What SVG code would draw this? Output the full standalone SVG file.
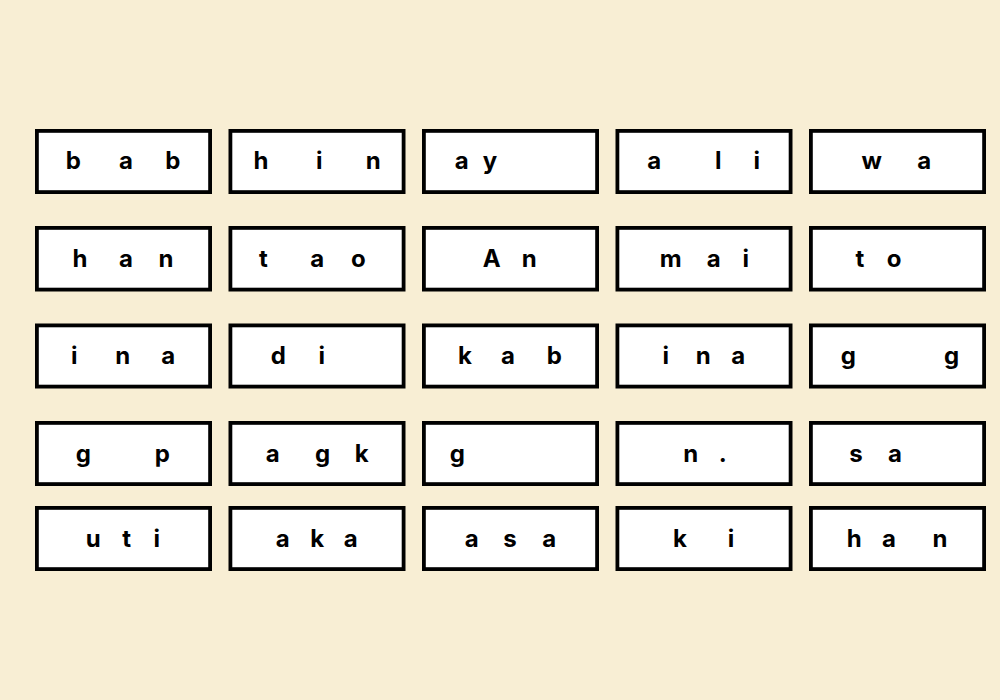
<svg xmlns="http://www.w3.org/2000/svg" width="1000" height="700" viewBox="0 0 1000 700">
<style>
.bg{fill:#f8eed4}
.box rect{fill:#ffffff;stroke:#000000;stroke-width:3.8}
.box text{font-family:Inter,"DejaVu Sans",sans-serif;font-weight:700;font-size:24px;fill:#000000;text-anchor:middle}
</style>
<rect class="bg" x="0" y="0" width="1000" height="700"/>
<g id="connectors"/>
<!-- row 1 -->
<g id="n-1-1" class="box"><rect x="36.9" y="130.9" width="173.2" height="61.2"/><text x="73.3 126 172.7" y="169">bab</text></g>
<g id="n-1-2" class="box"><rect x="230.4" y="130.9" width="173.2" height="61.2"/><text x="261 319.3 373.3" y="169">hin</text></g>
<g id="n-1-3" class="box"><rect x="423.9" y="130.9" width="173.2" height="61.2"/><text x="461.7 490" y="169">ay</text></g>
<g id="n-1-4" class="box"><rect x="617.4" y="130.9" width="173.2" height="61.2"/><text x="654.3 718.3 756.7" y="169">ali</text></g>
<g id="n-1-5" class="box"><rect x="810.9" y="130.9" width="173.2" height="61.2"/><text x="871.7 924.3" y="169">wa</text></g>
<!-- row 2 -->
<g id="n-2-1" class="box"><rect x="36.9" y="227.9" width="173.2" height="61.7"/><text x="80 126 166" y="267">han</text></g>
<g id="n-2-2" class="box"><rect x="230.4" y="227.9" width="173.2" height="61.7"/><text x="263.3 317.3 358.3" y="267">tao</text></g>
<g id="n-2-3" class="box"><rect x="423.9" y="227.9" width="173.2" height="61.7"/><text x="491.7 529.3" y="267">An</text></g>
<g id="n-2-4" class="box"><rect x="617.4" y="227.9" width="173.2" height="61.7"/><text x="670.7 713.7 745.7" y="267">mai</text></g>
<g id="n-2-5" class="box"><rect x="810.9" y="227.9" width="173.2" height="61.7"/><text x="860 894" y="267">to</text></g>
<!-- row 3 -->
<g id="n-3-1" class="box"><rect x="36.9" y="325.4" width="173.2" height="61.2"/><text x="74.3 122.7 168.3" y="364">ina</text></g>
<g id="n-3-2" class="box"><rect x="230.4" y="325.4" width="173.2" height="61.2"/><text x="278.3 321.7" y="364">di</text></g>
<g id="n-3-3" class="box"><rect x="423.9" y="325.4" width="173.2" height="61.2"/><text x="465 508 554.3" y="364">kab</text></g>
<g id="n-3-4" class="box"><rect x="617.4" y="325.4" width="173.2" height="61.2"/><text x="665.7 703.3 738.3" y="364">ina</text></g>
<g id="n-3-5" class="box"><rect x="810.9" y="325.4" width="173.2" height="61.2"/><text x="848.3 951.7" y="364">gg</text></g>
<!-- row 4 -->
<g id="n-4-1" class="box"><rect x="36.9" y="422.9" width="173.2" height="61.2"/><text x="83.3 162.3" y="461.5">gp</text></g>
<g id="n-4-2" class="box"><rect x="230.4" y="422.9" width="173.2" height="61.2"/><text x="272.7 322.7 361.7" y="461.5">agk</text></g>
<g id="n-4-3" class="box"><rect x="423.9" y="422.9" width="173.2" height="61.2"/><text x="457.3" y="461.5">g</text></g>
<g id="n-4-4" class="box"><rect x="617.4" y="422.9" width="173.2" height="61.2"/><text x="690.7 722.7" y="461.5">n.</text></g>
<g id="n-4-5" class="box"><rect x="810.9" y="422.9" width="173.2" height="61.2"/><text x="856 895" y="461.5">sa</text></g>
<!-- row 5 -->
<g id="n-5-1" class="box"><rect x="36.9" y="507.9" width="173.2" height="61.2"/><text x="93.3 126.7 156.7" y="546.5">uti</text></g>
<g id="n-5-2" class="box"><rect x="230.4" y="507.9" width="173.2" height="61.2"/><text x="282.7 317.3 350.7" y="546.5">aka</text></g>
<g id="n-5-3" class="box"><rect x="423.9" y="507.9" width="173.2" height="61.2"/><text x="471.7 510 549.3" y="546.5">asa</text></g>
<g id="n-5-4" class="box"><rect x="617.4" y="507.9" width="173.2" height="61.2"/><text x="680 731" y="546.5">ki</text></g>
<g id="n-5-5" class="box"><rect x="810.9" y="507.9" width="173.2" height="61.2"/><text x="854.3 889 940" y="546.5">han</text></g>
</svg>
